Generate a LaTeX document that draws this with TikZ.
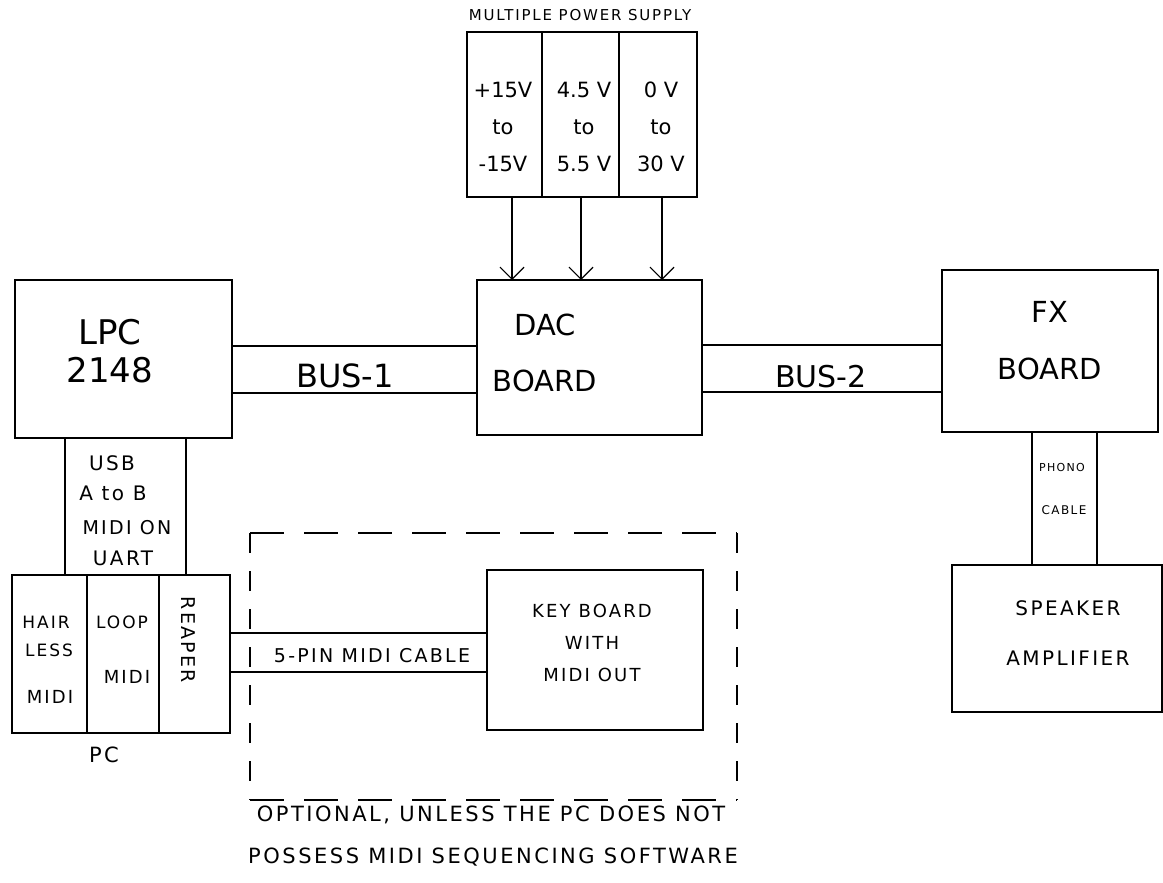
\documentclass[tikz,border=0pt]{standalone}
\usepackage{fontspec}
\setmainfont{DejaVu Sans}
\newfontfamily\hand{DejaVu Sans}[LetterSpace=12]
\usetikzlibrary{arrows.meta}
\tikzset{
  box/.style={draw, line width=1.1pt, inner sep=0pt, outer sep=0pt, anchor=north west},
  wire/.style={line width=1.1pt},
  arr/.style={line width=1.1pt, -{Straight Barb[length=12pt,width=24pt,line width=1.2pt]}},
  optarea/.style={inner sep=0pt, outer sep=0pt, anchor=north west},
  hdash/.style={line width=1.3pt, dash pattern=on 34pt off 20pt},
  vdash/.style={line width=1.3pt, dash pattern=on 20pt off 18pt},
  txt/.style={inner sep=0pt, align=center},
}
\newcommand{\fs}[2]{\fontsize{#1}{#2}\selectfont}
\begin{document}
\begin{tikzpicture}[x=1pt,y=-1pt]
\useasboundingbox (0,0) rectangle (1163,883);
% power supply
\node[box, minimum width=75pt, minimum height=165pt] (ps1) at (467,32) {};
\node[box, minimum width=77pt, minimum height=165pt] (ps2) at (542,32) {};
\node[box, minimum width=78pt, minimum height=165pt] (ps3) at (619,32) {};
\node[txt, font=\hand\fs{15}{16}] (pstitle) at (580,15) {MULTIPLE POWER SUPPLY};
\node[txt, font=\fs{21}{37}] (ps1t) at (503,127) {+15V\\to\\-15V};
\node[txt, font=\fs{21}{37}] (ps2t) at (584,127) {4.5 V\\to\\5.5 V};
\node[txt, font=\fs{21}{37}] (ps3t) at (661,127) {0 V\\to\\30 V};
% main boxes
\node[box, minimum width=225pt, minimum height=155pt] (dac) at (477,280) {};
\node[box, minimum width=217pt, minimum height=158pt] (lpc) at (15,280) {};
\node[box, minimum width=216pt, minimum height=162pt] (fx) at (942,270) {};
\node[box, minimum width=210pt, minimum height=147pt] (spk) at (952,565) {};
\node[box, minimum width=75pt, minimum height=158pt] (pc1) at (12,575) {};
\node[box, minimum width=72pt, minimum height=158pt] (pc2) at (87,575) {};
\node[box, minimum width=71pt, minimum height=158pt] (pc3) at (159,575) {};
\node[box, minimum width=216pt, minimum height=160pt] (kb) at (487,570) {};
\node[optarea, minimum width=487pt, minimum height=267pt] (opt) at (250,533) {};
\draw[hdash] (opt.north west) -- (opt.north east);
\draw[hdash] (opt.south west) -- (opt.south east);
\draw[vdash] (opt.north west) -- (opt.south west);
\draw[vdash] (opt.north east) -- (opt.south east);
% box texts
\node[txt, font=\fs{34}{38}] (lpct) at (110,351) {LPC\\2148};
\node[txt, font=\fs{29}{56}] (dact) at (545,353) {DAC\\BOARD};
\node[txt, font=\fs{29}{57}] (fxt) at (1050,341) {FX\\BOARD};
\node[txt, font=\hand\fs{20}{50}] (spkt) at (1068,633) {SPEAKER\\AMPLIFIER};
\node[txt, font=\hand\fs{17}{28}] (pc1t) at (46,622) {HAIR};
\node[txt, font=\hand\fs{17}{28}] (pc1u) at (49,650) {LESS};
\node[txt, font=\hand\fs{18}{28}] (pc1v) at (50,697) {MIDI};
\node[txt, font=\hand\fs{17}{28}] (pc2t) at (122,622) {LOOP};
\node[txt, font=\hand\fs{18}{28}] (pc2u) at (127,677) {MIDI};
\node[txt, font=\hand\fs{19}{28}, rotate=-90] (pc3t) at (188,640) {REAPER};
\node[txt, font=\hand\fs{21}{24}] (pct) at (104,755) {PC};
\node[txt, font=\hand\fs{18}{32}] (kbt) at (592,643) {KEY BOARD\\WITH\\MIDI OUT};
% connectors
\coordinate (b1a) at (0,346); \coordinate (b1b) at (0,393);
\draw[wire] (lpc.east |- b1a) -- (dac.west |- b1a);
\draw[wire] (lpc.east |- b1b) -- (dac.west |- b1b);
\node[txt, font=\fs{32}{34}] (bus1) at (345,376) {BUS-1};
\coordinate (b2a) at (0,345); \coordinate (b2b) at (0,392);
\draw[wire] (dac.east |- b2a) -- (fx.west |- b2a);
\draw[wire] (dac.east |- b2b) -- (fx.west |- b2b);
\node[txt, font=\fs{30}{34}] (bus2) at (821,377) {BUS-2};
\coordinate (a1) at (512,0); \coordinate (a2) at (581,0); \coordinate (a3) at (662,0);
\draw[arr] (ps1.south -| a1) -- (dac.north -| a1);
\draw[arr] (ps2.south -| a2) -- (dac.north -| a2);
\draw[arr] (ps3.south -| a3) -- (dac.north -| a3);
\coordinate (u1) at (65,0); \coordinate (u2) at (186,0);
\draw[wire] (lpc.south -| u1) -- (pc1.north -| u1);
\draw[wire] (lpc.south -| u2) -- (pc3.north -| u2);
\node[txt, font=\hand\fs{20}{22}] (usb1) at (112,463) {USB};
\node[txt, font=\hand\fs{20}{22}] (usb2) at (113,493) {A to B};
\node[txt, font=\hand\fs{19}{22}] (usb3) at (127,528) {MIDI ON};
\node[txt, font=\hand\fs{20}{22}] (usb4) at (123,558) {UART};
\coordinate (p1) at (1032,0); \coordinate (p2) at (1097,0);
\draw[wire] (fx.south -| p1) -- (spk.north -| p1);
\draw[wire] (fx.south -| p2) -- (spk.north -| p2);
\node[txt, font=\hand\fs{11}{12}] (ph1) at (1062,467) {PHONO};
\node[txt, font=\hand\fs{12}{12}] (ph2) at (1064,510) {CABLE};
\coordinate (m1) at (0,633); \coordinate (m2) at (0,672);
\draw[wire] (pc3.east |- m1) -- (kb.west |- m1);
\draw[wire] (pc3.east |- m2) -- (kb.west |- m2);
\node[txt, font=\hand\fs{19}{22}] (midic) at (372,656) {5-PIN MIDI CABLE};
% caption
\node[txt, font=\hand\fs{21}{24}] (cap1) at (491,815) {OPTIONAL, UNLESS THE PC DOES NOT};
\node[txt, font=\hand\fs{21}{24}] (cap2) at (493,857) {POSSESS MIDI SEQUENCING SOFTWARE};
\end{tikzpicture}
\end{document}
